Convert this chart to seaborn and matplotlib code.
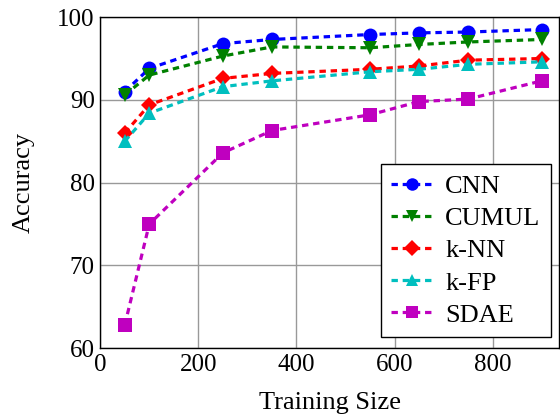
import pandas as pd
import matplotlib.pyplot as plt
import seaborn as sns

sizes = [50, 100, 250, 350, 550, 650, 750, 900]
cnn = [91.0, 93.8, 96.8, 97.3, 97.9, 98.1, 98.2, 98.5]
cumul = [90.6, 93.0, 95.3, 96.4, 96.3, 96.7, 97.0, 97.3]
knn = [86.0, 89.4, 92.6, 93.2, 93.7, 94.1, 94.8, 95.0]
kfp = [85.0, 88.4, 91.6, 92.3, 93.4, 93.7, 94.3, 94.6]
sdae = [62.8, 75.0, 83.6, 86.3, 88.2, 89.8, 90.1, 92.3]

methods = ['CNN', 'CUMUL', 'k-NN', 'k-FP', 'SDAE']
colors = ['b', 'g', 'r', 'c', 'm']
marks = ['o', 'v', 'D', '^', 's']


def build_frame():
    rows = []
    for name, vals in zip(methods, [cnn, cumul, knn, kfp, sdae]):
        for s, v in zip(sizes, vals):
            rows.append({'Training Size': s, 'Accuracy': v, 'Method': name})
    return pd.DataFrame(rows)


def main():
    df = build_frame()
    sns.set_style('whitegrid')
    plt.rcParams['font.family'] = ['Liberation Serif', 'DejaVu Serif']
    plt.rcParams['text.color'] = 'black'
    plt.rcParams['axes.labelcolor'] = 'black'

    fig = plt.figure(figsize=(5.6, 4.18), dpi=100)
    ax = fig.add_axes([0.179, 0.167, 0.819, 0.792])

    sns.lineplot(data=df, x='Training Size', y='Accuracy', hue='Method', style='Method',
                 hue_order=methods, style_order=methods,
                 palette=dict(zip(methods, colors)),
                 markers=dict(zip(methods, marks)),
                 dashes={m: (2, 1.5) for m in methods},
                 markersize=10, linewidth=2.3, markeredgewidth=0,
                 ax=ax)
    # diamonds look smaller in the original
    for line in ax.lines:
        if line.get_marker() == 'D':
            line.set_markersize(8)

    ax.set_xlim(0, 935)
    ax.set_ylim(60, 100)
    ax.set_xticks([0, 200, 400, 600, 800])
    ax.set_yticks([60, 70, 80, 90, 100])
    ax.grid(True, color='#999999', linewidth=1.0)
    for sp in ax.spines.values():
        sp.set_color('black')
        sp.set_linewidth(1.0)
    ax.tick_params(labelsize=18, colors='black', length=0, pad=4)
    ax.set_xlabel('Training Size', fontsize=19, labelpad=12)
    ax.set_ylabel('Accuracy', fontsize=19, labelpad=16)

    leg = ax.legend(loc='lower right', fontsize=19, frameon=True, fancybox=False,
                    handlelength=1.55, borderpad=0.4, labelspacing=0.33,
                    handletextpad=0.5, borderaxespad=0,
                    bbox_to_anchor=(0.983, 0.033))
    leg.get_frame().set_edgecolor('black')
    leg.get_frame().set_linewidth(1.0)
    leg.get_frame().set_alpha(1)
    for h in leg.legend_handles:
        h.set_markersize(8 if h.get_marker() == 'D' else 9)

    fig.savefig('out.png', dpi=100)


if __name__ == "__main__":
    main()
